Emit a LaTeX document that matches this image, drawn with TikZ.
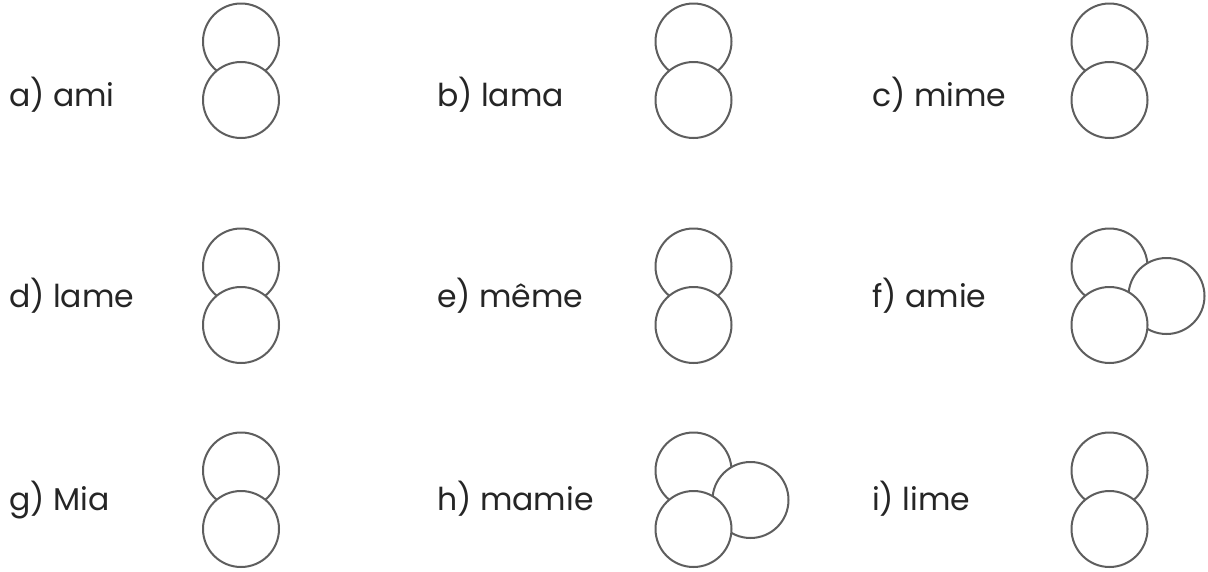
\documentclass[tikz,border=0pt]{standalone}
\usepackage{fontspec}
\setmainfont{Poppins}
\definecolor{ringgray}{HTML}{5E5E5E}
\definecolor{textgray}{HTML}{252525}
\begin{document}
\begin{tikzpicture}[x=1pt,y=-1pt,
  ring/.style={circle,draw=ringgray,line width=2pt,fill=white,minimum size=76pt,inner sep=0pt},
  word/.style={anchor=base west,inner sep=0pt,font=\fontsize{31.5}{38}\selectfont,text=textgray}]
\useasboundingbox[fill=white] (0,0) rectangle (1208,571);
% row 1
\node[word] (la) at (9,106) {a) ami};
\node[ring] (a1) at (241,41.5) {};
\node[ring] (a2) at (241,100) {};
\node[word] (lb) at (437,106) {b) lama};
\node[ring] (b1) at (693.5,41.5) {};
\node[ring] (b2) at (693.5,100) {};
\node[word] (lc) at (872,106) {c) mime};
\node[ring] (c1) at (1109.5,41.5) {};
\node[ring] (c2) at (1109.5,100) {};
% row 2
\node[word] (ld) at (9,307) {d) lame};
\node[ring] (d1) at (241,266.5) {};
\node[ring] (d2) at (241,325) {};
\node[word] (le) at (437,307) {e) même};
\node[ring] (e1) at (693.5,266.5) {};
\node[ring] (e2) at (693.5,325) {};
\node[word] (lf) at (872,307) {f) amie};
\node[ring] (f1) at (1109.5,266.5) {};
\node[ring] (f3) at (1166.5,296) {};
\node[ring] (f2) at (1109.5,325) {};
% row 3
\node[word] (lg) at (9,510) {g) Mia};
\node[ring] (g1) at (241,470.5) {};
\node[ring] (g2) at (241,529) {};
\node[word] (lh) at (437,510) {h) mamie};
\node[ring] (h1) at (693.5,470.5) {};
\node[ring] (h3) at (750.5,500) {};
\node[ring] (h2) at (693.5,529) {};
\node[word] (li) at (872,510) {i) lime};
\node[ring] (i1) at (1109.5,470.5) {};
\node[ring] (i2) at (1109.5,529) {};
\end{tikzpicture}
\end{document}
